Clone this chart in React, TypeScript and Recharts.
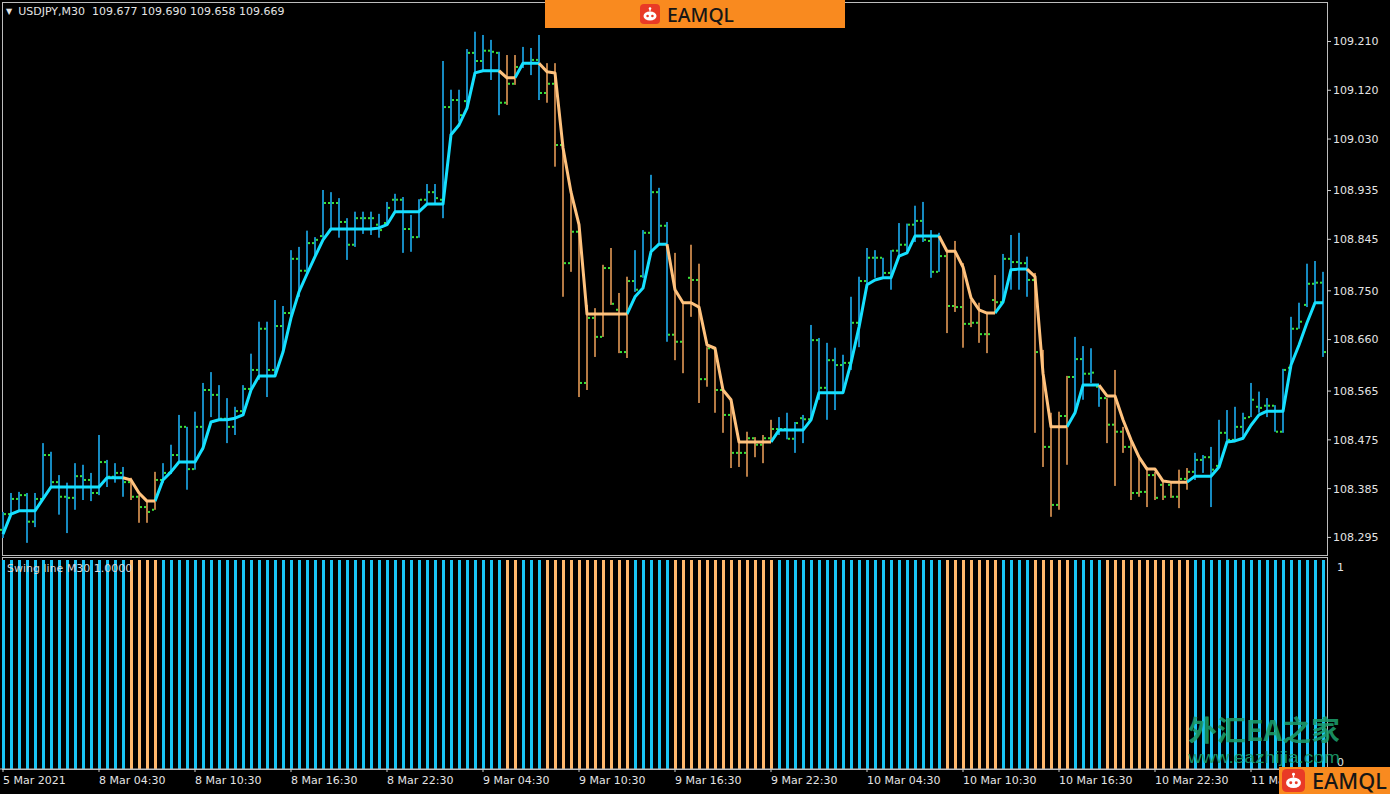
import React from 'react';
import { ComposedChart, Bar, Line, XAxis, YAxis, Cell } from 'recharts';

const OPEN = [
  108.309,108.338,108.366,108.373,108.324,108.366,108.447,108.397,108.370,108.368,108.408,108.401,
  108.377,108.434,108.407,108.414,108.397,108.370,108.351,108.346,108.401,108.414,108.447,108.499,
  108.421,108.499,108.567,108.558,108.514,108.499,108.528,108.569,108.604,108.680,108.604,108.685,
  108.709,108.809,108.787,108.838,108.851,108.912,108.912,108.877,108.835,108.884,108.884,108.872,
  108.875,108.918,108.918,108.864,108.849,108.918,108.932,108.918,109.089,109.102,109.100,109.189,
  109.174,109.193,109.189,109.097,109.132,109.163,109.170,109.176,109.115,109.132,109.019,108.801,
  108.859,108.580,108.700,108.665,108.792,108.715,108.637,108.768,108.777,108.857,108.932,108.870,
  108.669,108.656,108.774,108.770,108.587,108.644,108.567,108.521,108.451,108.451,108.478,108.466,
  108.478,108.495,108.495,108.477,108.515,108.513,108.659,108.571,108.622,108.613,108.617,108.691,
  108.768,108.811,108.811,108.783,108.824,108.835,108.872,108.879,108.842,108.785,108.814,108.722,
  108.720,108.689,108.691,108.670,108.733,108.729,108.809,108.803,108.801,108.770,108.637,108.462,
  108.355,108.519,108.591,108.624,108.597,108.573,108.552,108.503,108.490,108.462,108.377,108.379,
  108.410,108.392,108.392,108.370,108.403,108.416,108.438,108.443,108.427,108.488,108.475,108.499,
  108.517,108.536,108.538,108.538,108.490,108.608,108.680,108.724,108.763,108.765,
];

const HIGH = [
  108.342,108.377,108.379,108.377,108.377,108.469,108.453,108.410,108.396,108.432,108.429,108.414,
  108.484,108.438,108.432,108.425,108.405,108.373,108.364,108.416,108.432,108.466,108.521,108.499,
  108.527,108.580,108.600,108.576,108.552,108.536,108.576,108.634,108.693,108.693,108.733,108.722,
  108.825,108.831,108.861,108.849,108.936,108.932,108.921,108.884,108.896,108.896,108.896,108.892,
  108.914,108.929,108.923,108.890,108.919,108.947,108.947,109.174,109.121,109.121,109.196,109.228,
  109.222,109.213,109.191,109.185,109.185,109.200,109.198,109.222,109.170,109.170,109.019,108.927,
  108.872,108.724,108.718,108.798,108.829,108.746,108.776,108.825,108.862,108.964,108.940,108.877,
  108.820,108.728,108.835,108.800,108.646,108.646,108.567,108.549,108.475,108.490,108.480,108.484,
  108.512,108.517,108.525,108.508,108.521,108.687,108.663,108.654,108.645,108.632,108.739,108.776,
  108.829,108.825,108.811,108.825,108.875,108.874,108.907,108.914,108.862,108.857,108.825,108.842,
  108.801,108.733,108.728,108.709,108.779,108.818,108.853,108.857,108.813,108.783,108.641,108.525,
  108.527,108.593,108.665,108.648,108.644,108.573,108.552,108.604,108.499,108.475,108.445,108.425,
  108.416,108.401,108.396,108.420,108.423,108.451,108.447,108.462,108.512,108.530,108.536,108.525,
  108.580,108.564,108.552,108.539,108.606,108.702,108.728,108.800,108.805,108.785,
];

const LOW = [
  108.294,108.336,108.342,108.285,108.314,108.364,108.388,108.337,108.303,108.346,108.364,108.362,
  108.373,108.388,108.396,108.370,108.364,108.322,108.322,108.346,108.396,108.412,108.434,108.383,
  108.420,108.456,108.517,108.512,108.469,108.484,108.525,108.566,108.586,108.554,108.598,108.635,
  108.702,108.739,108.783,108.816,108.848,108.862,108.848,108.807,108.831,108.855,108.853,108.848,
  108.872,108.896,108.820,108.822,108.848,108.908,108.912,108.884,109.038,109.062,109.087,109.152,
  109.154,109.139,109.074,109.093,109.130,109.161,109.148,109.102,109.097,108.979,108.739,108.785,
  108.554,108.567,108.628,108.665,108.724,108.635,108.626,108.748,108.774,108.816,108.835,108.656,
  108.622,108.598,108.702,108.543,108.573,108.525,108.488,108.423,108.425,108.407,108.443,108.432,
  108.471,108.484,108.476,108.451,108.469,108.510,108.549,108.512,108.530,108.562,108.604,108.646,
  108.757,108.774,108.776,108.752,108.816,108.820,108.840,108.840,108.774,108.785,108.672,108.711,
  108.645,108.683,108.654,108.635,108.709,108.728,108.752,108.752,108.739,108.488,108.425,108.333,
  108.346,108.429,108.525,108.549,108.580,108.536,108.469,108.390,108.451,108.364,108.370,108.351,
  108.364,108.364,108.368,108.349,108.383,108.401,108.414,108.351,108.425,108.471,108.471,108.480,
  108.517,108.525,108.517,108.490,108.488,108.608,108.680,108.720,108.728,108.628,
];

const CLOSE = [
  108.338,108.366,108.373,108.324,108.366,108.447,108.397,108.370,108.368,108.408,108.401,108.377,
  108.434,108.407,108.414,108.397,108.370,108.351,108.342,108.401,108.414,108.447,108.499,108.421,
  108.499,108.567,108.558,108.514,108.499,108.528,108.569,108.604,108.680,108.604,108.685,108.709,
  108.809,108.787,108.838,108.844,108.912,108.912,108.877,108.835,108.884,108.884,108.884,108.862,
  108.903,108.918,108.864,108.849,108.918,108.932,108.921,109.089,109.102,109.074,109.189,109.174,
  109.193,109.191,109.097,109.132,109.163,109.170,109.176,109.115,109.132,109.019,108.801,108.859,
  108.580,108.700,108.665,108.792,108.726,108.637,108.768,108.752,108.857,108.932,108.870,108.669,
  108.656,108.728,108.770,108.587,108.644,108.567,108.521,108.451,108.451,108.478,108.466,108.478,
  108.495,108.495,108.477,108.506,108.513,108.659,108.571,108.622,108.613,108.617,108.691,108.768,
  108.811,108.811,108.783,108.824,108.835,108.872,108.879,108.844,108.785,108.814,108.722,108.720,
  108.689,108.691,108.670,108.670,108.729,108.809,108.803,108.801,108.770,108.637,108.462,108.355,
  108.519,108.591,108.624,108.597,108.599,108.552,108.503,108.490,108.462,108.377,108.379,108.410,
  108.368,108.370,108.370,108.403,108.416,108.438,108.443,108.420,108.488,108.475,108.499,108.515,
  108.549,108.534,108.538,108.490,108.604,108.680,108.693,108.763,108.765,108.637,
];

const SWING = [
  108.301,108.338,108.344,108.344,108.344,108.366,108.388,108.388,108.388,108.388,108.388,108.388,
  108.388,108.405,108.405,108.405,108.401,108.377,108.362,108.362,108.401,108.416,108.434,108.434,
  108.434,108.460,108.508,108.512,108.512,108.515,108.521,108.567,108.593,108.593,108.593,108.637,
  108.700,108.748,108.781,108.813,108.844,108.864,108.864,108.864,108.864,108.864,108.864,108.866,
  108.872,108.896,108.896,108.896,108.896,108.910,108.910,108.910,109.038,109.056,109.087,109.152,
  109.156,109.156,109.156,109.143,109.143,109.170,109.170,109.170,109.154,109.152,109.014,108.932,
  108.872,108.707,108.707,108.707,108.707,108.707,108.707,108.739,108.755,108.822,108.836,108.836,
  108.752,108.728,108.728,108.720,108.650,108.644,108.567,108.549,108.471,108.471,108.471,108.471,
  108.471,108.493,108.493,108.493,108.493,108.512,108.562,108.562,108.562,108.562,108.617,108.683,
  108.761,108.770,108.774,108.774,108.814,108.820,108.851,108.851,108.851,108.851,108.823,108.823,
  108.794,108.737,108.715,108.709,108.709,108.729,108.789,108.790,108.790,108.776,108.598,108.499,
  108.499,108.499,108.525,108.576,108.576,108.576,108.556,108.556,108.512,108.475,108.443,108.421,
  108.421,108.399,108.397,108.397,108.397,108.408,108.408,108.408,108.425,108.471,108.473,108.478,
  108.502,108.521,108.528,108.528,108.528,108.613,108.650,108.691,108.728,108.728,
];

// bar index ranges where the swing direction is down (orange)
const DOWN_RANGES = [[16, 19], [63, 64], [68, 78], [84, 96], [118, 124], [129, 133], [138, 148]];

const PRICE_TICKS = [109.21, 109.12, 109.03, 108.935, 108.845, 108.75, 108.66, 108.565, 108.475, 108.385, 108.295];
const PRICE_DOMAIN = [108.2644, 109.281];

const TIME_LABELS = [
  '5 Mar 2021', '8 Mar 04:30', '8 Mar 10:30', '8 Mar 16:30', '8 Mar 22:30',
  '9 Mar 04:30', '9 Mar 10:30', '9 Mar 16:30', '9 Mar 22:30',
  '10 Mar 04:30', '10 Mar 10:30', '10 Mar 16:30', '10 Mar 22:30', '11 Mar 04:30',
];
const BARS_PER_LABEL = 12;

const HEADER = 'USDJPY,M30  109.677 109.690 109.658 109.669';
const SUB_LABEL = 'Swing line M30 1.0000';

const UP_BAR = '#168ac0';
const DN_BAR = '#b57a44';
const TICK_GREEN = '#39e239';
const UP_LINE = '#16e0ff';
const DN_LINE = '#ffc27e';
const UP_HIST = '#19c4f4';
const DN_HIST = '#ffb86c';
const TEXT = '#e4e4e4';
const BORDER = '#bdbdbd';
const FONT = 'DejaVu Sans, Verdana, sans-serif';

const dirs = OPEN.map((_, i) => (DOWN_RANGES.some(([a, b]) => i >= a && i <= b) ? -1 : 1));

const data = OPEN.map((o, i) => ({
  i,
  o,
  h: HIGH[i],
  l: LOW[i],
  c: CLOSE[i],
  range: [LOW[i], HIGH[i]],
  dir: dirs[i],
  up: dirs[i] === 1 || dirs[i + 1] === 1 ? SWING[i] : null,
  dn: dirs[i] === -1 || dirs[i + 1] === -1 ? SWING[i] : null,
  one: 1,
}));

const OhlcShape = (props: any) => {
  const { x, y, width, height, payload } = props;
  if (x == null || y == null || !payload) return null;
  const cx = Math.round(x + width / 2);
  const top = Math.min(y, y + height);
  const bot = Math.max(y, y + height);
  const span = payload.h - payload.l;
  const yOf = (v: number) => (span > 0 ? top + ((payload.h - v) / span) * (bot - top) : top);
  const col = payload.dir === 1 ? UP_BAR : DN_BAR;
  return (
    <g>
      <rect x={cx - 1} y={top} width={2} height={Math.max(1, bot - top)} fill={col} />
      <rect x={cx - 3} y={yOf(payload.o) - 1} width={2} height={2} fill={TICK_GREEN} />
      <rect x={cx + 1} y={yOf(payload.c) - 1} width={2} height={2} fill={TICK_GREEN} />
    </g>
  );
};

const TimeTick = (props: any) => {
  const { x, y, payload } = props;
  const label = TIME_LABELS[Math.round(payload.value / BARS_PER_LABEL)];
  return (
    <text x={x} y={y + 10} fill={TEXT} fontSize={11} fontFamily={FONT} textAnchor="start">
      {label}
    </text>
  );
};

const HistTick = (props: any) => {
  const { x, y, payload } = props;
  const dy = payload.value === 1 ? 11 : -3;
  return (
    <text x={x + 2} y={y + dy} fill={TEXT} fontSize={11} fontFamily={FONT} textAnchor="start">
      {payload.value}
    </text>
  );
};

const Robot = ({ x, y, s }: { x: number; y: number; s: number }) => (
  <g transform={`translate(${x},${y}) scale(${s / 20})`}>
    <rect x={0} y={0} width={20} height={20} rx={4} fill="#e93a26" />
    <circle cx={10} cy={4.5} r={1.3} fill="#fff" />
    <rect x={9.4} y={4.5} width={1.2} height={3} fill="#fff" />
    <ellipse cx={10} cy={12} rx={6.5} ry={4.6} fill="#fff" />
    <circle cx={7.6} cy={12} r={1.3} fill="#e93a26" />
    <circle cx={12.4} cy={12} r={1.3} fill="#e93a26" />
  </g>
);

export default function App() {
  return (
    <div
      style={{
        position: 'fixed',
        left: 0,
        top: 0,
        width: 1390,
        height: 794,
        background: '#000',
        overflow: 'hidden',
        fontFamily: FONT,
      }}
    >
      {/* panel borders */}
      <div style={{ position: 'absolute', left: 2, top: 2, width: 1326, height: 554, border: `1px solid ${BORDER}`, boxSizing: 'border-box' }} />
      <div style={{ position: 'absolute', left: 2, top: 557, width: 1326, height: 213, border: `1px solid ${BORDER}`, boxSizing: 'border-box' }} />

      {/* price panel */}
      <div style={{ position: 'absolute', left: -1, top: 0 }}>
        <ComposedChart width={1391} height={556} data={data} margin={{ top: 3, right: 0, bottom: 2, left: 0 }} barCategoryGap={0}>
          <XAxis dataKey="i" type="category" hide />
          <YAxis
            orientation="right"
            type="number"
            domain={PRICE_DOMAIN}
            allowDataOverflow
            ticks={PRICE_TICKS}
            interval={0}
            width={63}
            axisLine={false}
            tickLine={{ stroke: '#d0d0d0' }}
            tickSize={4}
            tickMargin={2}
            tick={{ fill: TEXT, fontSize: 11, fontFamily: FONT }}
            tickFormatter={(v: number) => v.toFixed(3)}
          />
          <Bar dataKey="range" shape={OhlcShape} isAnimationActive={false} />
          <Line type="linear" dataKey="up" stroke={UP_LINE} strokeWidth={3} dot={false} activeDot={false} isAnimationActive={false} strokeLinejoin="round" />
          <Line type="linear" dataKey="dn" stroke={DN_LINE} strokeWidth={3} dot={false} activeDot={false} isAnimationActive={false} strokeLinejoin="round" />
        </ComposedChart>
      </div>

      {/* histogram panel */}
      <div style={{ position: 'absolute', left: -1, top: 556 }}>
        <ComposedChart width={1391} height={238} data={data} margin={{ top: 4, right: 0, bottom: 0, left: 0 }}>
          <XAxis
            dataKey="i"
            type="category"
            height={25}
            interval={BARS_PER_LABEL - 1}
            axisLine={{ stroke: BORDER }}
            tickLine={{ stroke: '#d0d0d0' }}
            tickSize={3}
            tickMargin={2}
            tick={<TimeTick />}
          />
          <YAxis
            orientation="right"
            type="number"
            domain={[0, 1]}
            ticks={[0, 1]}
            interval={0}
            width={63}
            axisLine={false}
            tickLine={false}
            tick={<HistTick />}
          />
          <Bar dataKey="one" barSize={3} isAnimationActive={false}>
            {data.map((d) => (
              <Cell key={d.i} fill={d.dir === 1 ? UP_HIST : DN_HIST} />
            ))}
          </Bar>
        </ComposedChart>
      </div>

      {/* header text */}
      <div style={{ position: 'absolute', left: 6, top: 5, color: TEXT, fontSize: 11, lineHeight: '14px', whiteSpace: 'pre' }}>
        <span style={{ fontSize: 8, marginRight: 6, position: 'relative', top: -1 }}>▼</span>
        {HEADER}
      </div>
      <div style={{ position: 'absolute', left: 7, top: 562, color: '#d8d8d8', fontSize: 11, lineHeight: '14px', whiteSpace: 'pre' }}>
        {SUB_LABEL}
      </div>

      {/* overlays: watermark and logos */}
      <svg width={1390} height={794} style={{ position: 'absolute', left: 0, top: 0, pointerEvents: 'none' }}>
        <text x={1188} y={741} fontSize={28} fontWeight={700} fill="#1c9d6b" fillOpacity={0.9} fontFamily="Noto Sans CJK SC, sans-serif" textLength={152} lengthAdjust="spacingAndGlyphs">
          外汇EA之家
        </text>
        <text x={1188} y={763} fontSize={17} fill="#1c9d6b" fillOpacity={0.9} fontFamily="Liberation Sans, Arial, sans-serif" textLength={152} lengthAdjust="spacingAndGlyphs">
          www.eazhijia.com
        </text>

        <rect x={545} y={0} width={300} height={28} fill="#f98a1f" />
        <Robot x={640} y={4} s={20} />
        <text x={667} y={22} fontSize={20} fontWeight={500} fill="#161616" fontFamily="Noto Sans, sans-serif" textLength={67} lengthAdjust="spacingAndGlyphs">
          EAMQL
        </text>

        <rect x={1279} y={767} width={111} height={27} fill="#f98a1f" />
        <Robot x={1282} y={769} s={23} />
        <text x={1312} y={789} fontSize={21} fontWeight={500} fill="#161616" fontFamily="Noto Sans, sans-serif" textLength={75} lengthAdjust="spacingAndGlyphs">
          EAMQL
        </text>
      </svg>
    </div>
  );
}
